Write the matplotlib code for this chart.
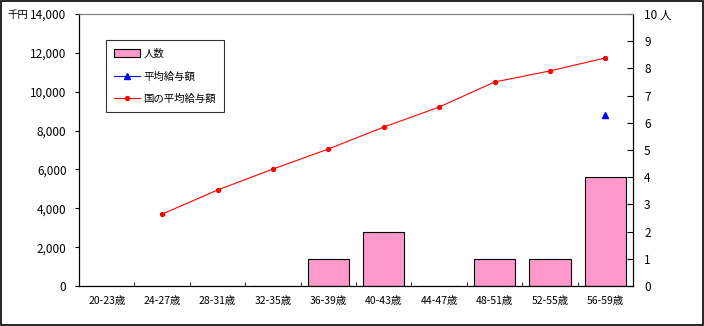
import numpy as np
import matplotlib
matplotlib.use('Agg')
from matplotlib import pyplot as plt
from matplotlib.patches import Rectangle

plt.rcParams['font.family'] = ['Noto Sans CJK JP', 'DejaVu Sans']

# data
ages = ['20-23歳', '24-27歳', '28-31歳', '32-35歳', '36-39歳',
        '40-43歳', '44-47歳', '48-51歳', '52-55歳', '56-59歳']
people = [0, 0, 0, 0, 1, 2, 0, 1, 1, 4]
avg_pay = [None, None, None, None, None, None, None, None, None, 8800]
nat_pay = [None, 3700, 4940, 6020, 7050, 8180, 9210, 10500, 11070, 11740]

fig = plt.figure(figsize=(7.04, 3.26), dpi=100)
ax = fig.add_axes([79/704, 1-286/326, (633-79)/704, (286-14)/326])
ax2 = ax.twinx()
ax.set_zorder(ax2.get_zorder() + 1)
ax.patch.set_visible(False)

x = np.arange(len(ages))

# bars (right axis)
ax2.bar(x, people, width=0.75, color='#ff99cc', edgecolor='black', linewidth=0.8)
ax2.set_ylim(0, 10)
ax2.set_yticks(range(11))
ax2.set_yticklabels([str(i) for i in range(10)] + ['10 人'])
ax2.tick_params(axis='y', direction='in', length=4, labelsize=8.5, pad=8)

# lines (left axis)
nat = np.array([np.nan if v is None else v for v in nat_pay], dtype=float)
avg = np.array([np.nan if v is None else v for v in avg_pay], dtype=float)
ax.plot(x, nat, color='red', lw=0.8, marker='o', ms=2.8)
ax.plot(x, avg, color='blue', lw=0.8, marker='^', ms=4, linestyle='none')
ax.set_ylim(0, 14000)
ax.set_yticks(range(0, 14001, 2000))
ax.set_yticklabels(['{:,}'.format(v) for v in range(0, 14001, 2000)])
ax.tick_params(axis='y', direction='out', length=3, labelsize=8.5, pad=6)
ax.set_xlim(-0.5, len(ages) - 0.5)
ax.set_xticks(x)
ax.set_xticklabels(ages)
ax.set_xticks(np.arange(0.5, len(ages) - 0.5), minor=True)
ax.tick_params(axis='x', which='major', length=0, labelsize=7.5, pad=7)
ax.tick_params(axis='x', which='minor', direction='in', length=3)
ax2.tick_params(axis='x', length=0)

for a in (ax, ax2):
    a.spines['top'].set_color('#808080')
    a.spines['left'].set_color('black')
    a.spines['right'].set_color('black')
    a.spines['bottom'].set_color('black')
    for s in a.spines.values():
        s.set_linewidth(0.8)

fig.text(7/704, 1-15/326, '千円', fontsize=7.5, va='center')

# legend
handles = [Rectangle((0, 0), 1, 1, facecolor='#ff99cc', edgecolor='black', lw=0.8),
           plt.Line2D([], [], color='blue', lw=0.8, marker='^', ms=4),
           plt.Line2D([], [], color='red', lw=0.8, marker='o', ms=2.8)]
leg = ax.legend(handles, ['人数', '平均給与額', '国の平均給与額'],
                loc='upper left', bbox_to_anchor=((106-79)/554, (286-40)/272),
                fontsize=7.5, frameon=True, fancybox=False, edgecolor='black',
                borderpad=0.8, labelspacing=1.2, handlelength=2.5, handletextpad=0.3,
                borderaxespad=0)
leg.get_frame().set_linewidth(0.8)

fig.patches.append(Rectangle((0.001, 0.002), 0.997, 0.995, transform=fig.transFigure,
                             fill=False, edgecolor='black', lw=1.2))

fig.savefig('out.png', dpi=100)
